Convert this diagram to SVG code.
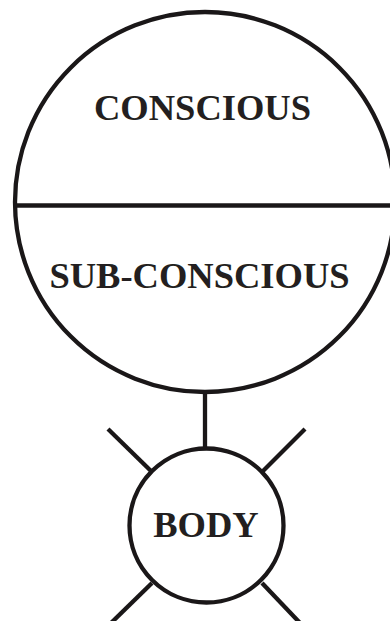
<svg xmlns="http://www.w3.org/2000/svg" width="390" height="621" viewBox="0 0 390 621">
<style>
.s{fill:none;stroke:#1a1718;stroke-width:4.3}
.t{font-family:"Liberation Serif","Times New Roman",serif;font-weight:bold;font-size:36.5px;fill:#231f20;text-anchor:middle}
</style>
<rect width="390" height="621" fill="#fff"/>
<g id="connectors">
<line class="s" x1="205" y1="392" x2="205" y2="449"/>
<line class="s" x1="108" y1="429" x2="151" y2="471"/>
<line class="s" x1="305" y1="429" x2="263" y2="471"/>
<line class="s" x1="152" y1="583" x2="110" y2="624"/>
<line class="s" x1="262" y1="583" x2="301" y2="624"/>
</g>
<g id="mind">
<circle class="s" cx="205" cy="202" r="190"/>
<line class="s" x1="15" y1="205.5" x2="395" y2="205.5"/>
<text class="t" x="202.5" y="120">CONSCIOUS</text>
<text class="t" x="199.5" y="288">SUB-CONSCIOUS</text>
</g>
<g id="body">
<circle class="s" cx="206.5" cy="525.5" r="77"/>
<text class="t" x="206" y="537">BODY</text>
</g>
</svg>
